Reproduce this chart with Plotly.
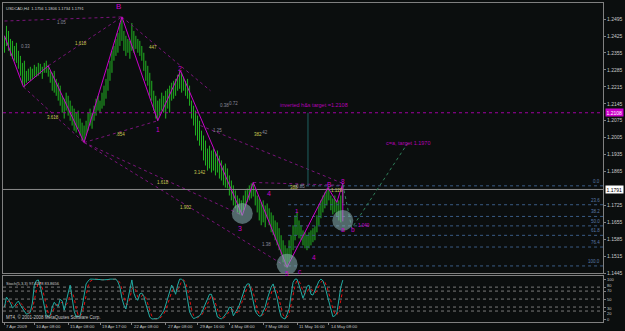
import plotly.graph_objects as go

HIGH = [1.2426, 1.2467, 1.2446, 1.2413, 1.2405, 1.2384, 1.2397, 1.2364, 1.2343, 1.2314,
        1.2323, 1.2281, 1.2290, 1.2298, 1.2290, 1.2306, 1.2298, 1.2314, 1.2310, 1.2298,
        1.2314, 1.2323, 1.2306, 1.2281, 1.2273, 1.2281, 1.2248, 1.2232, 1.2220, 1.2178,
        1.2166, 1.2191, 1.2178, 1.2158, 1.2137, 1.2125, 1.2108, 1.2117, 1.2084, 1.2067,
        1.2055, 1.2075, 1.2108, 1.2125, 1.2108, 1.2137, 1.2166, 1.2178, 1.2158, 1.2191,
        1.2220, 1.2248, 1.2290, 1.2323, 1.2364, 1.2384, 1.2413, 1.2438, 1.2479, 1.2504,
        1.2446, 1.2426, 1.2413, 1.2405, 1.2479, 1.2446, 1.2426, 1.2413, 1.2405, 1.2384,
        1.2356, 1.2323, 1.2302, 1.2273, 1.2240, 1.2199, 1.2178, 1.2158, 1.2166, 1.2191,
        1.2178, 1.2199, 1.2207, 1.2220, 1.2232, 1.2240, 1.2248, 1.2265, 1.2281, 1.2273,
        1.2257, 1.2240, 1.2248, 1.2220, 1.2158, 1.2137, 1.2117, 1.2096, 1.2075, 1.2034,
        1.2014, 1.1993, 1.1960, 1.1972, 1.1952, 1.1960, 1.1944, 1.1952, 1.1931, 1.1911,
        1.1890, 1.1898, 1.1878, 1.1849, 1.1828, 1.1808, 1.1787, 1.1766, 1.1754, 1.1746,
        1.1766, 1.1787, 1.1795, 1.1808, 1.1816, 1.1820, 1.1795, 1.1766, 1.1754, 1.1738,
        1.1746, 1.1725, 1.1733, 1.1713, 1.1696, 1.1684, 1.1663, 1.1655, 1.1631, 1.1602,
        1.1581, 1.1560, 1.1548, 1.1581, 1.1602, 1.1643, 1.1684, 1.1696, 1.1663, 1.1643,
        1.1622, 1.1614, 1.1602, 1.1614, 1.1622, 1.1631, 1.1639, 1.1684, 1.1725, 1.1746,
        1.1766, 1.1779, 1.1795, 1.1803, 1.1766, 1.1754, 1.1766, 1.1746, 1.1746, 1.1766,
        1.1806]
LOW = [1.2356, 1.2384, 1.2364, 1.2343, 1.2331, 1.2323, 1.2314, 1.2290, 1.2261, 1.2224,
       1.2215, 1.2232, 1.2240, 1.2240, 1.2248, 1.2257, 1.2257, 1.2261, 1.2269, 1.2248,
       1.2273, 1.2273, 1.2257, 1.2232, 1.2199, 1.2191, 1.2178, 1.2158, 1.2137, 1.2108,
       1.2084, 1.2117, 1.2096, 1.2075, 1.2055, 1.2034, 1.2026, 1.2042, 1.2014, 1.1993,
       1.1985, 1.2014, 1.2034, 1.2055, 1.2042, 1.2075, 1.2096, 1.2117, 1.2108, 1.2125,
       1.2137, 1.2166, 1.2199, 1.2240, 1.2273, 1.2323, 1.2343, 1.2356, 1.2384, 1.2405,
       1.2364, 1.2343, 1.2356, 1.2331, 1.2364, 1.2356, 1.2372, 1.2356, 1.2343, 1.2323,
       1.2281, 1.2240, 1.2220, 1.2178, 1.2158, 1.2117, 1.2084, 1.2075, 1.2096, 1.2117,
       1.2108, 1.2084, 1.2125, 1.2108, 1.2158, 1.2166, 1.2178, 1.2199, 1.2207, 1.2191,
       1.2199, 1.2178, 1.2166, 1.2137, 1.2084, 1.2055, 1.2014, 1.1993, 1.1972, 1.1952,
       1.1911, 1.1890, 1.1869, 1.1878, 1.1861, 1.1869, 1.1849, 1.1861, 1.1836, 1.1828,
       1.1808, 1.1799, 1.1795, 1.1766, 1.1746, 1.1725, 1.1713, 1.1696, 1.1688, 1.1684,
       1.1705, 1.1725, 1.1738, 1.1746, 1.1754, 1.1762, 1.1725, 1.1696, 1.1663, 1.1643,
       1.1655, 1.1635, 1.1672, 1.1643, 1.1614, 1.1602, 1.1581, 1.1560, 1.1540, 1.1519,
       1.1490, 1.1470, 1.1466, 1.1490, 1.1507, 1.1540, 1.1581, 1.1602, 1.1589, 1.1581,
       1.1560, 1.1548, 1.1540, 1.1548, 1.1560, 1.1573, 1.1581, 1.1614, 1.1643, 1.1672,
       1.1696, 1.1713, 1.1725, 1.1746, 1.1705, 1.1688, 1.1696, 1.1680, 1.1663, 1.1655,
       1.1734]
STOCH_K = [30, 55, 48, 40, 28, 32, 40, 45, 35, 27, 20, 12, 14, 17, 40, 85, 96, 98, 82, 55,
           30, 8, 6, 10, 30, 42, 35, 32, 50, 45, 22, 40, 65, 85, 55, 20, 5, 6, 8, 30,
           65, 88, 95, 100, 100, 100, 100, 100, 99, 98, 98, 98, 99, 100, 100, 100, 100, 93, 80, 52,
           35, 25, 50, 78, 98, 65, 52, 47, 63, 65, 57, 38, 18, 5, 0, 0, 0, 1, 5, 12,
           20, 35, 52, 68, 85, 75, 62, 85, 100, 100, 95, 80, 48, 18, 8, 1, 3, 6, 8, 15,
           28, 38, 50, 62, 62, 42, 20, 5, 2, 0, 5, 12, 18, 30, 28, 8, 15, 25, 35, 52,
           68, 80, 88, 88, 68, 45, 20, 12, 7, 8, 18, 30, 50, 68, 80, 88, 70, 52, 25, 6,
           2, 0, 12, 25, 60, 92, 100, 100, 85, 70, 52, 65, 82, 85, 62, 60, 72, 82, 95, 100,
           96, 82, 65, 48, 25, 6, 8, 15, 45, 80, 97.6]

PRICE_TICKS = [1.2495, 1.2425, 1.2355, 1.2285, 1.2215, 1.2145, 1.2075, 1.2005, 1.1935,
               1.1865, 1.1725, 1.1655, 1.1585, 1.1515, 1.1445]
STOCH_TICKS = [100, 80, 70, 50, 30, 20, 0]
STOCH_LABEL_NUDGE = [0, 2, 1, 0, -1, -2, 0]
STOCH_LEVELS = [80, 70, 50, 30, 20]
TIME_LABELS = ["7 Apr 2009", "10 Apr 08:00", "15 Apr 08:00", "19 Apr 17:00", "22 Apr 08:00",
               "27 Apr 08:00", "29 Apr 16:00", "4 May 08:00", "7 May 08:00", "11 May 16:00",
               "14 May 08:00"]
TIME_BARS = [0, 15, 32, 48, 64, 81, 97, 113, 130, 147, 163]

ZZ_BAR = [0, 9.5, 22, 40, 59, 77, 88.5, 119.5, 125, 142, 162.5, 167, 170, 170]
ZZ_PRICE = [1.2426, 1.2215, 1.2302, 1.1985, 1.2504, 1.2075, 1.2281, 1.1684, 1.1820,
            1.1470, 1.1799, 1.1738, 1.1816, 1.1659]

# dotted fan / channel lines: (bar0, price0, bar1, price1)
DOT_LINES = [(0, 1.2487, 59, 1.2504), (22, 1.2302, 59, 1.2504), (9.5, 1.2215, 40, 1.1985),
             (40, 1.1985, 77, 1.2075), (59, 1.2504, 103.5, 1.2199), (40, 1.1985, 119.5, 1.1684),
             (40, 1.1985, 142, 1.1470), (98.5, 1.2055, 170, 1.1816), (125, 1.1820, 170, 1.1808)]
GREEN_BAR = [170, 174.5, 202.5]
GREEN_PRICE = [1.1812, 1.1631, 1.1981]

CIRCLE_BAR = [119.5, 142, 170]
CIRCLE_PRICE = [1.1692, 1.1482, 1.1663]

FIB_LEVELS = [0.0, 23.6, 38.2, 50.0, 61.8, 76.4, 100.0]
FIB_HIGH = 1.1806
FIB_LOW = 1.1475
FIB_START = 142.5

TARGET_PRICE = 1.2108
LAST_PRICE = 1.1791
VLINE_BAR = 152.5

YELLOW_LABELS = [("1.618", 38.5, 1.2393), ("3.618", 24.5, 1.2088), (".854", 58.5, 1.2018),
                 ("447", 74.5, 1.2376), ("1.618", 79.5, 1.1820), ("1.902", 91, 1.1717),
                 ("3.142", 98, 1.1861), ("382", 127.5, 1.2018), ("388", 145.5, 1.1799),
                 ("1.129", 167, 1.1787)]
GRAY_LABELS = [("1.05", 28.5, 1.2483), ("0.33", 10.5, 1.2380), ("0.38", 110.5, 1.2137),
               ("0.72", 115, 1.2145), ("1.25", 107, 1.2034), (".42", 130.5, 1.2026),
               ("0.85", 148.5, 1.1803), ("1.38", 131.5, 1.1565)]
WAVE_LABELS = [("B", 57.5, 1.2545, 8), ("1", 77, 1.2037, 6.5), ("2", 88, 1.2290, 7),
               ("3", 118.5, 1.1631, 7), ("4", 133, 1.1775, 7), ("1", 147, 1.1700, 6),
               ("5", 142, 1.1445, 6.5), ("c", 148.5, 1.1452, 6.5), ("4", 155.5, 1.1511, 6.5),
               ("B", 163, 1.1812, 6.5), ("8", 170, 1.1823, 6.5), ("a", 170, 1.1626, 6.5),
               ("b", 175, 1.1626, 6.5), ("1.040", 180.5, 1.1643, 4.5)]

STOCH_D = []
for i in range(len(STOCH_K)):
    w = STOCH_K[max(0, i - 2):i + 1]
    STOCH_D.append(sum(w) / len(w))

BG = "#0b0e0e"
GRID = "#808080"
TXT = "#c8c8c8"
FONT = "Liberation Sans"
MAG = "#cc00cc"

fig = go.Figure()
n = len(HIGH)
idx = list(range(n))

# price bars as vertical high-low strokes
bx, by = [], []
for i in idx:
    bx += [i, i, None]
    by += [LOW[i], HIGH[i], None]
fig.add_trace(go.Scatter(x=bx, y=by, mode="lines", line=dict(color="#22b422", width=1),
                         xaxis="x", yaxis="y", hoverinfo="skip"))

# dotted purple fans
dx, dy = [], []
for b0, p0, b1, p1 in DOT_LINES:
    dx += [b0, b1, None]
    dy += [p0, p1, None]
fig.add_trace(go.Scatter(x=dx, y=dy, mode="lines", line=dict(color="#7a147a", width=1, dash="dot"),
                         xaxis="x", yaxis="y", hoverinfo="skip"))

# fib levels
fx, fy = [], []
for lv in FIB_LEVELS:
    p = FIB_HIGH - lv / 100.0 * (FIB_HIGH - FIB_LOW)
    fx += [FIB_START, 300.75, None]
    fy += [p, p, None]
fig.add_trace(go.Scatter(x=fx, y=fy, mode="lines", line=dict(color="#3a5c86", width=1, dash="dot"),
                         xaxis="x", yaxis="y", hoverinfo="skip"))

# target line and last price line
fig.add_trace(go.Scatter(x=[-0.75, 300.75], y=[TARGET_PRICE, TARGET_PRICE], mode="lines",
                         line=dict(color="#a000a0", width=1, dash="dot"), xaxis="x", yaxis="y",
                         hoverinfo="skip"))
fig.add_trace(go.Scatter(x=[-0.75, 300.75], y=[LAST_PRICE, LAST_PRICE], mode="lines",
                         line=dict(color="#8c8c8c", width=1), xaxis="x", yaxis="y", hoverinfo="skip"))
fig.add_trace(go.Scatter(x=[VLINE_BAR, VLINE_BAR], y=[TARGET_PRICE, FIB_HIGH], mode="lines",
                         line=dict(color="#1f6060", width=1), xaxis="x", yaxis="y", hoverinfo="skip"))

# zigzag
fig.add_trace(go.Scatter(x=ZZ_BAR, y=ZZ_PRICE, mode="lines", line=dict(color=MAG, width=1),
                         xaxis="x", yaxis="y", hoverinfo="skip"))
# green projection
fig.add_trace(go.Scatter(x=GREEN_BAR, y=GREEN_PRICE, mode="lines",
                         line=dict(color="#2f7f5a", width=1, dash="dot"), xaxis="x", yaxis="y",
                         hoverinfo="skip"))
# circles
fig.add_trace(go.Scatter(x=CIRCLE_BAR, y=CIRCLE_PRICE, mode="markers",
                         marker=dict(size=21, color="rgba(140,178,182,0.55)", line=dict(width=0)),
                         xaxis="x", yaxis="y", hoverinfo="skip"))

# stochastic
sx, sy = [], []
for lv in STOCH_LEVELS:
    sx += [-0.75, 300.75, None]
    sy += [lv, lv, None]
fig.add_trace(go.Scatter(x=sx, y=sy, mode="lines", line=dict(color="#7a7a7a", width=1, dash="dot"),
                         xaxis="x2", yaxis="y2", hoverinfo="skip"))
fig.add_trace(go.Scatter(x=idx, y=STOCH_D, mode="lines", line=dict(color="#e01010", width=1, dash="dot"),
                         xaxis="x2", yaxis="y2", hoverinfo="skip"))
fig.add_trace(go.Scatter(x=idx, y=STOCH_K, mode="lines", line=dict(color="#22aaa2", width=1),
                         xaxis="x2", yaxis="y2", hoverinfo="skip"))

ann = []
ann.append(dict(text="USDCAD,H4  1.1756 1.1806 1.1734 1.1791", xref="paper", yref="paper", x=0, y=1,
                xanchor="left", yanchor="top", xshift=1, yshift=-1, showarrow=False,
                font=dict(size=4, color="#d0d0d0", family=FONT)))
for t, b, p in YELLOW_LABELS:
    ann.append(dict(text=t, x=b, y=p, xref="x", yref="y", showarrow=False,
                    font=dict(size=4.5, color="#c8c850", family=FONT)))
for t, b, p in GRAY_LABELS:
    ann.append(dict(text=t, x=b, y=p, xref="x", yref="y", showarrow=False,
                    font=dict(size=4.5, color="#8a8a9a", family=FONT)))
for t, b, p, s in WAVE_LABELS:
    ann.append(dict(text=t, x=b, y=p, xref="x", yref="y", showarrow=False,
                    font=dict(size=s, color=MAG, family=FONT)))
ann.append(dict(text="inverted h&s target =1.2108", x=137.5, y=1.2141, xref="x", yref="y",
                xanchor="left", showarrow=False, font=dict(size=5.5, color="#b400b4", family=FONT)))
ann.append(dict(text="c=a, target 1.1970", x=190.5, y=1.1981, xref="x", yref="y",
                xanchor="left", showarrow=False, font=dict(size=5.5, color="#b400b4", family=FONT)))
for lv in FIB_LEVELS:
    p = FIB_HIGH - lv / 100.0 * (FIB_HIGH - FIB_LOW)
    ann.append(dict(text="%.1f" % lv, x=300.75, y=p, xref="x", yref="y", xanchor="right",
                    yanchor="bottom", xshift=-1, showarrow=False,
                    font=dict(size=4.5, color="#5a7aa8", family=FONT)))
ann.append(dict(text="%.4f" % TARGET_PRICE, xref="paper", yref="y", x=1, y=TARGET_PRICE,
                xanchor="left", xshift=2, showarrow=False, bgcolor=MAG, borderpad=0.5,
                font=dict(size=5, color="#ffffff", family=FONT)))
ann.append(dict(text="%.4f" % LAST_PRICE, xref="paper", yref="y", x=1, y=LAST_PRICE,
                xanchor="left", xshift=2, showarrow=False, bgcolor="#ffffff", borderpad=0.5,
                font=dict(size=5, color="#000000", family=FONT)))
for v, nud in zip(STOCH_TICKS, STOCH_LABEL_NUDGE):
    ann.append(dict(text=str(v), xref="paper", yref="y2", x=1, y=v, xanchor="left",
                    xshift=3, yshift=nud, showarrow=False, borderpad=0,
                    font=dict(size=4, color=TXT, family=FONT)))
ann.append(dict(text="Stoch(5,3,3) 97.6378 83.8656", xref="x2", yref="y2", x=-0.5, y=88,
                xanchor="left", showarrow=False, font=dict(size=4, color=TXT, family=FONT)))
ann.append(dict(text="MT4, © 2001-2008 MetaQuotes Software Corp.", xref="x2", yref="y2", x=-0.5,
                y=5, xanchor="left", showarrow=False, font=dict(size=4.5, color=TXT, family=FONT)))
for t, b in zip(TIME_LABELS, TIME_BARS):
    ann.append(dict(text=t, xref="x2", yref="paper", x=b, y=0, xanchor="left", yanchor="top",
                    xshift=0, yshift=0, showarrow=False,
                    font=dict(size=4.3, color=TXT, family=FONT)))

axis_common = dict(showgrid=False, zeroline=False, showline=True, mirror=True,
                   linecolor=GRID, linewidth=1)

fig.update_layout(
    width=625, height=331, margin=dict(l=2, r=20, t=2, b=9),
    paper_bgcolor=BG, plot_bgcolor=BG, showlegend=False,
    annotations=ann,
    xaxis=dict(domain=[0, 1], range=[-0.75, 300.75], anchor="y", showticklabels=False,
               ticks="", **axis_common),
    xaxis2=dict(domain=[0, 1], range=[-0.75, 300.75], anchor="y2", matches="x",
                showticklabels=False, tickvals=TIME_BARS, ticks="outside", ticklen=2,
                tickcolor=GRID, **axis_common),
    yaxis=dict(domain=[0.153, 1], range=[1.1445, 1.25615], anchor="x", side="right",
               tickvals=PRICE_TICKS, ticktext=["%.4f" % v for v in PRICE_TICKS],
               ticks="outside", ticklen=2, tickcolor=GRID,
               tickfont=dict(size=5, color=TXT, family=FONT), **axis_common),
    yaxis2=dict(domain=[0, 0.14375], range=[-7.5, 107.5], anchor="x2", side="right",
                tickvals=STOCH_TICKS, showticklabels=False,
                ticks="outside", ticklen=2, tickcolor=GRID, **axis_common),
)

fig.write_html("out.html", config={"displayModeBar": False})
